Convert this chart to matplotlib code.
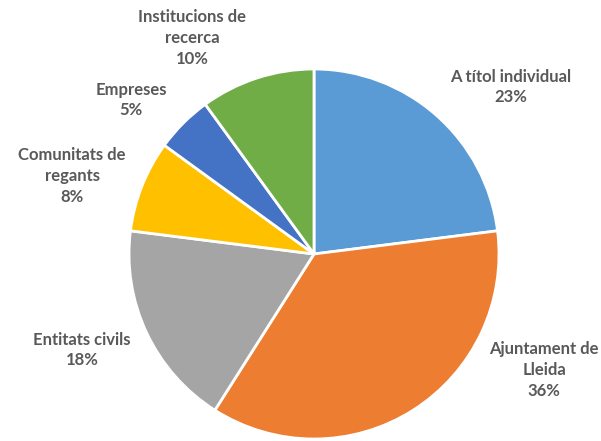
import matplotlib
matplotlib.use("Agg")
import matplotlib.pyplot as plt

categories = ["A títol individual", "Ajuntament de\nLleida", "Entitats civils",
              "Comunitats de\nregants", "Empreses", "Institucions de\nrecerca"]
values = [23, 36, 18, 8, 5, 10]
colors = ["#5B9BD5", "#ED7D31", "#A5A5A5", "#FFC000", "#4472C4", "#70AD47"]

# label centre positions in pixels (x from left, y from top) -- layout only
label_px = [(511, 87), (544, 370), (82, 350), (72, 176), (131, 100), (192, 38)]

W, H, DPI = 601, 441, 100
cx, cy, R = 314, 254, 185

fig = plt.figure(figsize=(W / DPI, H / DPI), dpi=DPI)
ax = fig.add_axes([0, 0, 1, 1])
ax.pie(values, colors=colors, startangle=90, counterclock=False, radius=1,
       wedgeprops=dict(edgecolor="white", linewidth=2))
ax.set_xlim(-cx / R, (W - cx) / R)
ax.set_ylim(-(H - cy) / R, cy / R)
ax.set_aspect("equal")
ax.axis("off")

for cat, v, (px, py) in zip(categories, values, label_px):
    x = (px - cx) / R
    y = (cy - py) / R
    ax.text(x, y, f"{cat}\n{v}%", ha="center", va="center", fontsize=12,
            fontweight="bold", color="#595959", family=["Lato", "DejaVu Sans"],
            linespacing=1.35)

fig.savefig("out.png", dpi=DPI)
